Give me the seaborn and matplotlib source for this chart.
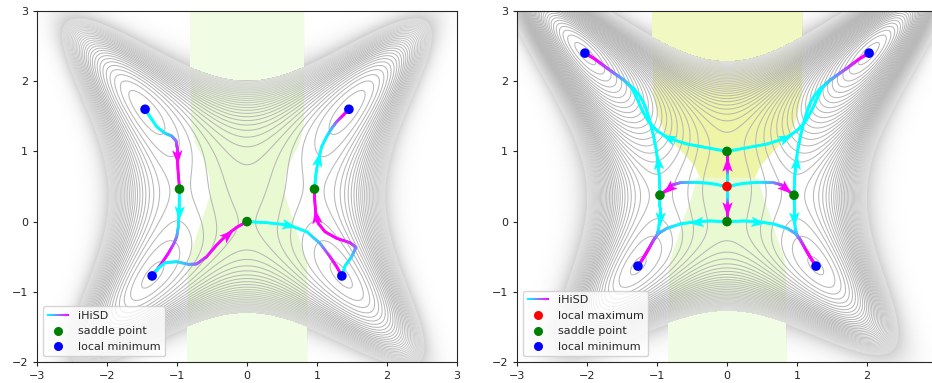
import numpy as np
import matplotlib
matplotlib.use("Agg")
import matplotlib.pyplot as plt
import matplotlib.colors as mcolors
import seaborn as sns
import pandas as pd
from matplotlib.collections import LineCollection
from matplotlib.legend_handler import HandlerBase
from matplotlib.lines import Line2D
from matplotlib.path import Path
from matplotlib.markers import MarkerStyle
from matplotlib.transforms import Affine2D

# ---------------- data ----------------
# energy E = x^4 + a x^2 y^2 + y^4 + b y^3 + c y^2 + d x^2 y + e x^2   -> [a, b, c, d, e]
coef_left = [-1.5, -1.5, 1.0, 1.0, -2.0]
coef_right = [-1.5, -2.0, 1.0, 1.0, -2.0]
emax_left = 8.0          # highest drawn contour; band lightens above it
emax_right = 8.5
levels_left = (-1.63, 8.0, 0.32)     # start, stop, step
levels_right = (-5.55, 8.5, 0.27)
glow_left = (3.0, 8.0, 3.5)          # ramp start, peak, decay of the grey halo
glow_right = (3.0, 8.5, 4.5)

# critical points
left_min_x = [-1.456, 1.456, -1.355, 1.355]
left_min_y = [1.600, 1.600, -0.774, -0.774]
left_sad_x = [-0.964, 0.964, 0.0]
left_sad_y = [0.463, 0.463, 0.0]
right_min_x = [-2.03, 2.03, -1.272, 1.272]
right_min_y = [2.40, 2.40, -0.634, -0.634]
right_sad_x = [0.0, 0.0, -0.958, 0.958]
right_sad_y = [0.0, 1.0, 0.376, 0.376]
right_max_x = [0.0]
right_max_y = [0.5]

# shaded bands: y levels and half widths
band_left_y = [3.0, 1.45, 1.3, 1.115, 0.877, 0.64, 0.4, 0.118, -0.166, -0.45, -0.6, -2.0]
band_left_hw = [0.81, 0.81, 0.79, 0.74, 0.62, 0.54, 0.53, 0.62, 0.72, 0.81, 0.855, 0.855]
band_right_top_y = [3.0, 1.8, 1.5, 1.26, 1.0, 0.8, 0.63]
band_right_top_hw = [1.075, 1.06, 0.99, 0.9, 0.65, 0.47, 0.39]
band_right_bot_y = [0.63, 0.5, 0.3, 0.07, -0.2, -0.45, -0.64, -2.0]
band_right_bot_hw = [0.44, 0.47, 0.53, 0.62, 0.70, 0.79, 0.835, 0.845]
green_in, green_out = "#e9fad2", "#f1fce4"
yellow_in, yellow_out = "#eef5a6", "#f2f8c2"

# iHiSD paths: x, y, colour parameter t (0 cyan -> 1 magenta), arrow index
left_paths = [
    ([-1.456, -1.386, -1.29, -1.171, -1.076, -1.014, -0.996, -0.996, -0.986, -0.964],
     [1.600, 1.494, 1.352, 1.258, 1.219, 1.152, 1.044, 0.934, 0.735, 0.463],
     [0, 0, 0, 0.1, 0.3, 0.55, 0.85, 1, 1, 1], 7),
    ([-0.964, -0.968, -0.971, -0.981, -1.004, -1.043, -1.124, -1.219, -1.29, -1.355],
     [0.463, 0.261, 0.141, -0.073, -0.215, -0.31, -0.452, -0.594, -0.69, -0.774],
     [0, 0, 0, 0.1, 0.4, 0.65, 0.95, 1, 1, 1], 2),
    ([-1.355, -1.267, -1.171, -1.004, -0.838, -0.719, -0.576, -0.433, -0.29, -0.147, 0.0],
     [-0.774, -0.665, -0.585, -0.571, -0.609, -0.604, -0.5, -0.333, -0.19, -0.081, 0.0],
     [0, 0, 0, 0.1, 0.3, 0.6, 0.9, 1, 1, 1, 1], 8),
    ([0.0, 0.281, 0.59, 0.853, 1.043, 1.186, 1.281, 1.355],
     [0.0, -0.015, -0.048, -0.144, -0.31, -0.5, -0.642, -0.774],
     [0, 0, 0, 0.0, 0.3, 0.85, 1, 1], 2),
    ([1.355, 1.4, 1.495, 1.557, 1.471, 1.281, 1.114, 1.019, 0.986, 0.967, 0.964],
     [-0.774, -0.632, -0.5, -0.366, -0.30, -0.238, -0.144, -0.025, 0.07, 0.308, 0.463],
     [0, 0, 0.15, 0.5, 0.85, 1, 1, 1, 1, 1, 1], 8),
    ([0.964, 0.986, 1.019, 1.067, 1.138, 1.21, 1.281, 1.376, 1.456],
     [0.463, 0.688, 0.877, 1.067, 1.21, 1.329, 1.423, 1.519, 1.600],
     [0, 0, 0, 0, 0.05, 0.25, 0.6, 1, 1], 2),
]

right_half_paths = [
    ([0, 0, 0, 0, 0], [0.5, 0.68, 0.76, 0.81, 1.0], [0, 0.1, 0.9, 1, 1], 3),
    ([0, 0, 0, 0, 0], [0.5, 0.33, 0.25, 0.19, 0.0], [0, 0.1, 0.9, 1, 1], 3),
    ([0.0, -0.242, -0.479, -0.669, -0.787, -0.835, -0.958],
     [0.5, 0.546, 0.56, 0.554, 0.52, 0.474, 0.376],
     [0, 0, 0.05, 0.4, 0.8, 1, 1], 5),
    ([0.0, -0.242, -0.431, -0.669, -0.858, -0.977, -1.048, -1.142, -1.214, -1.272],
     [0.0, 0.009, 0.0, -0.034, -0.096, -0.167, -0.262, -0.429, -0.547, -0.634],
     [0, 0, 0, 0, 0.15, 0.4, 0.7, 1, 1, 1], 2),
    ([-0.958, -0.963, -0.963, -0.975, -1.0, -1.048, -1.142, -1.214, -1.272],
     [0.376, 0.212, 0.047, -0.1, -0.19, -0.262, -0.429, -0.547, -0.634],
     [0, 0, 0, 0, 0.3, 0.7, 1, 1, 1], 2),
    ([-0.958, -0.967, -0.986, -1.01, -1.048, -1.105, -1.166, -1.238, -1.323, -1.475, -1.711, -1.902, -2.03],
     [0.376, 0.64, 0.83, 1.02, 1.21, 1.447, 1.637, 1.78, 1.885, 2.017, 2.184, 2.326, 2.40],
     [0, 0, 0, 0, 0, 0, 0, 0, 0, 0.25, 0.7, 1, 1], 2),
    ([0.0, -0.289, -0.573, -0.835, -1.0, -1.119, -1.214, -1.294, -1.356, -1.475, -1.711, -1.902, -2.03],
     [1.0, 1.053, 1.105, 1.187, 1.295, 1.423, 1.59, 1.77, 1.90, 2.017, 2.184, 2.326, 2.40],
     [0, 0, 0, 0, 0, 0, 0, 0, 0, 0.25, 0.7, 1, 1], 3),
]

# ---------------- style ----------------
sns.set_style("ticks")
plt.rcParams["font.family"] = ["DejaVu Sans"]
plt.rcParams["xtick.labelsize"] = 8
plt.rcParams["ytick.labelsize"] = 8
plt.rcParams["axes.linewidth"] = 0.8
plt.rcParams["xtick.major.size"] = 3
plt.rcParams["ytick.major.size"] = 3

cmap = plt.get_cmap("cool")

def energy(X, Y, c):
    a, b, cc, d, e = c
    return X**4 + a * X**2 * Y**2 + Y**4 + b * Y**3 + cc * Y**2 + d * X**2 * Y + e * X**2

xg = np.linspace(-3, 3, 800)
yg = np.linspace(-2, 3, 700)
XG, YG = np.meshgrid(xg, yg)

def draw_energy(ax, coef, lev, glow):
    F = energy(XG, YG, coef)
    levels = np.arange(*lev)
    lo, hi = levels.min(), levels.max()
    cols = []
    for L in levels:
        s = np.clip((L - 2.0) / (hi - 2.0), 0, 1)
        v = 0.72 + 0.16 * s
        cols.append((v, v, v))
    ax.contour(XG, YG, F, levels=levels, colors=cols, linewidths=0.75, zorder=1)
    # soft grey halo where the levels crowd together
    fa, fb, tau = glow
    r = np.clip((F - fa) / (fb - fa), 0, 1)
    alpha = np.where(F <= fb, r ** 2, np.exp(-(F - fb) / tau)) * 0.42
    halo = np.zeros(F.shape + (4,))
    halo[..., :3] = 0.55
    halo[..., 3] = alpha
    ax.imshow(halo, extent=(-3, 3, -2, 3), origin="lower", aspect="auto",
              interpolation="bilinear", zorder=0.8)
    return F

def band(ax, ys, hws, c_in):
    ax.fill_betweenx(ys, -np.array(hws), np.array(hws), color=c_in, linewidth=0, zorder=0)

def band_outer(ax, F, emax, parts):
    rgba = np.zeros(F.shape + (4,))
    rgba[..., :3] = 1.0
    for ys, hws, c_out in parts:
        ys_a = np.asarray(ys)[::-1]; hw_a = np.asarray(hws)[::-1]
        hw = np.interp(YG, ys_a, hw_a)
        inside = (np.abs(XG) <= hw) & (YG >= ys_a.min()) & (YG <= ys_a.max()) & (F > emax)
        rgba[inside] = mcolors.to_rgba(c_out)
    ax.imshow(rgba, extent=(-3, 3, -2, 3), origin="lower", aspect="auto",
              interpolation="nearest", zorder=2)

def draw_path(ax, xs, ys, ts, ai, sub=12):
    xs = np.asarray(xs, float); ys = np.asarray(ys, float); ts = np.asarray(ts, float)
    segs, vals = [], []
    for i in range(len(xs) - 1):
        f = np.linspace(0, 1, sub + 1)
        px = xs[i] + (xs[i + 1] - xs[i]) * f
        py = ys[i] + (ys[i + 1] - ys[i]) * f
        pt = ts[i] + (ts[i + 1] - ts[i]) * f
        for k in range(sub):
            segs.append([(px[k], py[k]), (px[k + 1], py[k + 1])])
            vals.append(0.5 * (pt[k] + pt[k + 1]))
    lc = LineCollection(segs, cmap=cmap, norm=plt.Normalize(0, 1), linewidths=2.0,
                        capstyle="round", joinstyle="round", zorder=3)
    lc.set_array(np.array(vals))
    ax.add_collection(lc)
    dx = xs[ai + 1] - xs[ai - 1]
    dy = ys[ai + 1] - ys[ai - 1]
    ang = np.degrees(np.arctan2(dy, dx))
    verts = [(1.0, 0.0), (-0.75, 0.62), (-0.35, 0.0), (-0.75, -0.62), (1.0, 0.0)]
    codes = [Path.MOVETO, Path.LINETO, Path.LINETO, Path.LINETO, Path.CLOSEPOLY]
    mk = MarkerStyle(Path(verts, codes), transform=Affine2D().rotate_deg(ang))
    ax.plot([xs[ai]], [ys[ai]], marker=mk, markersize=12, color=cmap(ts[ai]),
            markeredgewidth=0, linestyle="none", zorder=4)

class GradientHandle:
    pass

class HandlerGradient(HandlerBase):
    def create_artists(self, legend, orig_handle, xdescent, ydescent, width, height, fontsize, trans):
        n = 30
        x = np.linspace(-xdescent, -xdescent + width, n + 1)
        y = np.full(n + 1, height / 2.0 - ydescent)
        pts = np.array([x, y]).T.reshape(-1, 1, 2)
        segs = np.concatenate([pts[:-1], pts[1:]], axis=1)
        lc = LineCollection(segs, cmap=cmap, norm=plt.Normalize(0, 1), transform=trans, linewidths=1.5)
        lc.set_array(np.linspace(0, 1, n))
        return [lc]

fig = plt.figure(figsize=(9.32, 3.83), dpi=100)
ax1 = fig.add_axes([37 / 932, 21 / 383, 420 / 932, 351 / 383])
ax2 = fig.add_axes([517 / 932, 21 / 383, 420 / 932, 351 / 383])
pal = {"local maximum": "red", "saddle point": "green", "local minimum": "blue"}

# ---------------- left panel ----------------
band(ax1, band_left_y, band_left_hw, green_in)
F1 = draw_energy(ax1, coef_left, levels_left, glow_left)
band_outer(ax1, F1, emax_left, [(band_left_y, band_left_hw, green_out)])
for xs, ys, ts, ai in left_paths:
    draw_path(ax1, xs, ys, ts, ai)
pts_left = pd.DataFrame({
    "x": left_sad_x + left_min_x,
    "y": left_sad_y + left_min_y,
    "kind": ["saddle point"] * len(left_sad_x) + ["local minimum"] * len(left_min_x),
})
sns.scatterplot(data=pts_left, x="x", y="y", hue="kind", palette=pal, s=48, linewidth=0,
                legend=False, zorder=5, ax=ax1)

# ---------------- right panel ----------------
band(ax2, band_right_top_y, band_right_top_hw, yellow_in)
band(ax2, band_right_bot_y, band_right_bot_hw, green_in)
F2 = draw_energy(ax2, coef_right, levels_right, glow_right)
band_outer(ax2, F2, emax_right, [(band_right_top_y, band_right_top_hw, yellow_out),
                                 (band_right_bot_y, band_right_bot_hw, green_out)])
for xs, ys, ts, ai in right_half_paths:
    draw_path(ax2, xs, ys, ts, ai)
    if any(abs(v) > 1e-9 for v in xs):
        draw_path(ax2, [-v for v in xs], ys, ts, ai)
pts_right = pd.DataFrame({
    "x": right_max_x + right_sad_x + right_min_x,
    "y": right_max_y + right_sad_y + right_min_y,
    "kind": ["local maximum"] * len(right_max_x) + ["saddle point"] * len(right_sad_x)
            + ["local minimum"] * len(right_min_x),
})
sns.scatterplot(data=pts_right, x="x", y="y", hue="kind", palette=pal, s=48, linewidth=0,
                legend=False, zorder=5, ax=ax2)

for ax in (ax1, ax2):
    ax.set_xlim(-3, 3)
    ax.set_ylim(-2, 3)
    ax.set_yticks([-2, -1, 0, 1, 2, 3])
    ax.set_xlabel("")
    ax.set_ylabel("")
ax1.set_xticks([-3, -2, -1, 0, 1, 2, 3])
ax2.set_xticks([-3, -2, -1, 0, 1, 2])

def mk(color, label):
    return Line2D([], [], marker="o", linestyle="none", color=color, markersize=6.5,
                  markeredgewidth=0, label=label)

ax1.legend([GradientHandle(), mk("green", "saddle point"), mk("blue", "local minimum")],
           ["iHiSD", "saddle point", "local minimum"],
           handler_map={GradientHandle: HandlerGradient()}, loc="lower left", fontsize=8)
ax2.legend([GradientHandle(), mk("red", "local maximum"), mk("green", "saddle point"),
            mk("blue", "local minimum")],
           ["iHiSD", "local maximum", "saddle point", "local minimum"],
           handler_map={GradientHandle: HandlerGradient()}, loc="lower left", fontsize=8)

fig.savefig("out.png", dpi=100)
